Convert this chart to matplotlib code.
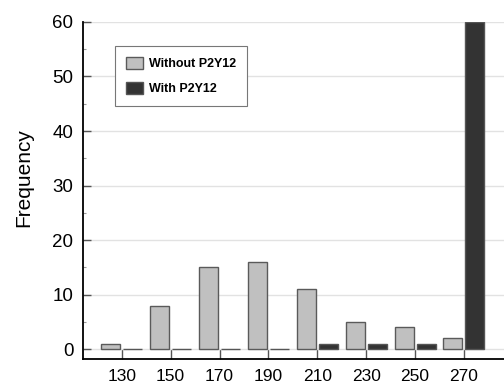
import matplotlib.pyplot as plt
import numpy as np
from matplotlib.ticker import MultipleLocator

plt.rcParams['font.family'] = ['Liberation Sans', 'DejaVu Sans']

# data
bins = [130, 150, 170, 190, 210, 230, 250, 270]
without_p2y12 = [1, 8, 15, 16, 11, 5, 4, 2]
with_p2y12 = [0, 0, 0, 0, 1, 1, 1, 60]

fig = plt.figure(figsize=(5.04, 3.85), dpi=100)
ax = fig.add_axes([0.165, 0.0675, 0.835, 0.8755])

x = np.array(bins)
ax.bar(x - 4.5, without_p2y12, width=7.8, color='#c0c0c0', edgecolor='#5a5a5a',
       linewidth=1.0, label='Without P2Y12', zorder=3)
ax.bar(x + 4.5, with_p2y12, width=7.8, color='#333333', edgecolor='#555555',
       linewidth=1.0, label='With P2Y12', zorder=3)

ax.set_xlim(114.2, 286.4)
ax.set_ylim(-1.8, 60)

ax.set_xticks(bins)
ax.yaxis.set_major_locator(MultipleLocator(10))
ax.yaxis.set_minor_locator(MultipleLocator(5))
ax.grid(axis='y', color='#e2e2e2', linewidth=1.0, zorder=0)

for s in ['top', 'right']:
    ax.spines[s].set_visible(False)
ax.spines['left'].set_linewidth(1.3)
ax.spines['bottom'].set_linewidth(1.3)

ax.tick_params(axis='x', direction='in', length=7, width=1.0, color='#555555',
               labelsize=12.5, pad=7)
ax.tick_params(axis='y', which='major', direction='in', length=6, width=1.0,
               color='#555555', labelsize=13.5, pad=7)
ax.tick_params(axis='y', which='minor', direction='in', length=2.5, width=0.8,
               color='#999999')

ax.set_ylabel('Frequency', fontsize=15)
ax.yaxis.set_label_coords(-0.119, 0.539)

leg = ax.legend(loc='upper left', bbox_to_anchor=(0.076, 0.929), borderaxespad=0,
                fancybox=False, edgecolor='#777777', framealpha=1,
                prop={'size': 9, 'weight': 'bold'}, handlelength=1.3,
                handleheight=1.1, borderpad=0.9, labelspacing=0.9,
                handletextpad=0.5)
leg.get_frame().set_linewidth(0.8)

fig.savefig('out.png', dpi=100)
